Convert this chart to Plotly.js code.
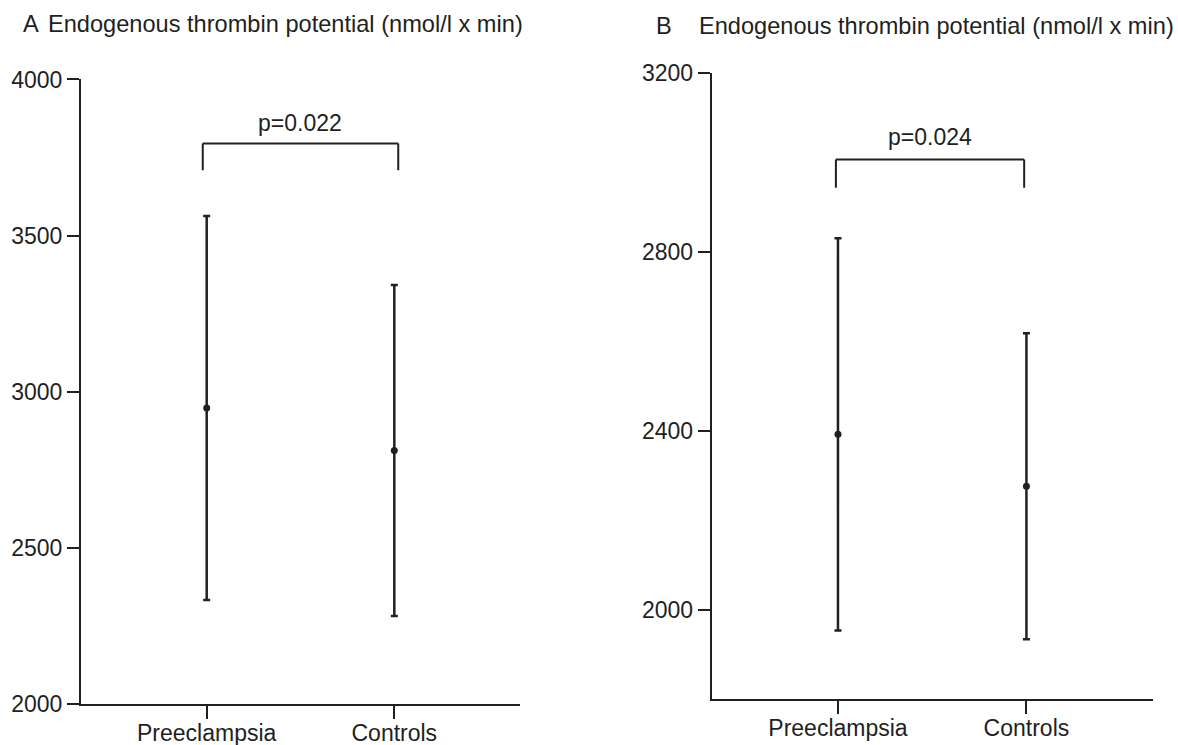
<!DOCTYPE html>
<html>
<head>
<meta charset="utf-8">
<script src="https://cdn.plot.ly/plotly-3.0.1.min.js"></script>
<style>html,body{margin:0;padding:0;background:#fff;}#chart{width:1178px;height:745px;}</style>
</head>
<body>
<div id="chart"></div>
<script>
// Data
const categories = ["Preeclampsia", "Controls"];
const etpMeanA = [2948, 2812];
const etpSdA = [615, 530];
const etpMeanB = [2392, 2276];
const etpSdB = [438, 342];
const yTicksA = [2000, 2500, 3000, 3500, 4000];
const yTicksB = [2000, 2400, 2800, 3200];
const pValueA = "p=0.022";
const pValueB = "p=0.024";
const titleText = "Endogenous thrombin potential (nmol/l x min)";

const ink = "#231f20";
const fontFam = "'Liberation Sans', Arial, Helvetica, sans-serif";
const fs = 23;
const fsTitle = 23.6;

function trace(means, sds, xa, ya) {
  return {
    type: "scatter", mode: "markers",
    x: categories, y: means, xaxis: xa, yaxis: ya,
    marker: {color: ink, size: 7},
    error_y: {type: "data", array: sds, symmetric: true, visible: true,
              color: ink, thickness: 2.5, width: 3.5},
    showlegend: false, hoverinfo: "skip", cliponaxis: false
  };
}

const xCommon = {
  type: "category", range: [-0.67, 1.67], showline: true, linecolor: ink, linewidth: 2,
  ticks: "outside", ticklen: 13, tickwidth: 2, tickcolor: ink, showgrid: false, zeroline: false,
  ticklabelstandoff: -6,
  tickfont: {family: fontFam, size: fs, color: ink}, fixedrange: true
};
const yCommon = {
  showline: true, linecolor: ink, linewidth: 2,
  ticks: "outside", ticklen: 12, tickwidth: 2, tickcolor: ink, showgrid: false, zeroline: false,
  tickfont: {family: fontFam, size: fs, color: ink}, fixedrange: true
};

const data = [
  trace(etpMeanA, etpSdA, "x", "y"),
  trace(etpMeanB, etpSdB, "x2", "y2")
];

function bracket(xr, yr, x0, x1, yTop, yLeg) {
  const line = {color: ink, width: 2};
  return [
    {type: "line", xref: xr, yref: yr, x0: x0, x1: x1, y0: yTop, y1: yTop, line: line},
    {type: "line", xref: xr, yref: yr, x0: x0, x1: x0, y0: yTop, y1: yLeg, line: line},
    {type: "line", xref: xr, yref: yr, x0: x1, x1: x1, y0: yTop, y1: yLeg, line: line}
  ];
}

const layout = {
  width: 1178, height: 745,
  margin: {l: 0, r: 0, t: 0, b: 0},
  paper_bgcolor: "#fff", plot_bgcolor: "#fff",
  font: {family: fontFam, size: fs, color: ink},
  xaxis: Object.assign({}, xCommon, {domain: [0.06876, 0.44143], anchor: "y"}),
  yaxis: Object.assign({}, yCommon, {domain: [0.05503, 0.89329], range: [2000, 4000],
          tickvals: yTicksA, ticktext: yTicksA.map(String), anchor: "x"}),
  xaxis2: Object.assign({}, xCommon, {domain: [0.60416, 0.97852], anchor: "y2"}),
  yaxis2: Object.assign({}, yCommon, {domain: [0.06134, 0.90242], range: [1800, 3200],
          tickvals: yTicksB, ticktext: yTicksB.map(String), anchor: "x2"}),
  shapes: [].concat(
    bracket("x", "y", -0.021, 1.021, 3795, 3709),
    bracket("x2", "y2", -0.011, 0.988, 3006, 2943)
  ),
  annotations: [
    {xref: "paper", yref: "paper", x: 21/1178, y: 1 - 24/745, xanchor: "left", yanchor: "middle",
     text: "A", showarrow: false, font: {family: fontFam, size: fsTitle, color: ink}},
    {xref: "paper", yref: "paper", x: 46/1178, y: 1 - 24/745, xanchor: "left", yanchor: "middle",
     text: titleText, showarrow: false, font: {family: fontFam, size: fsTitle, color: ink}},
    {xref: "paper", yref: "paper", x: 654/1178, y: 1 - 26/745, xanchor: "left", yanchor: "middle",
     text: "B", showarrow: false, font: {family: fontFam, size: fsTitle, color: ink}},
    {xref: "paper", yref: "paper", x: 697/1178, y: 1 - 26/745, xanchor: "left", yanchor: "middle",
     text: titleText, showarrow: false, font: {family: fontFam, size: fsTitle, color: ink}},
    {xref: "x", yref: "y", x: 0.5, y: 3861, xanchor: "center", yanchor: "middle",
     text: pValueA, showarrow: false, font: {family: fontFam, size: fs, color: ink}},
    {xref: "x2", yref: "y2", x: 0.488, y: 3056, xanchor: "center", yanchor: "middle",
     text: pValueB, showarrow: false, font: {family: fontFam, size: fs, color: ink}}
  ]
};

Plotly.newPlot("chart", data, layout, {displayModeBar: false, staticPlot: true});
</script>
</body>
</html>
